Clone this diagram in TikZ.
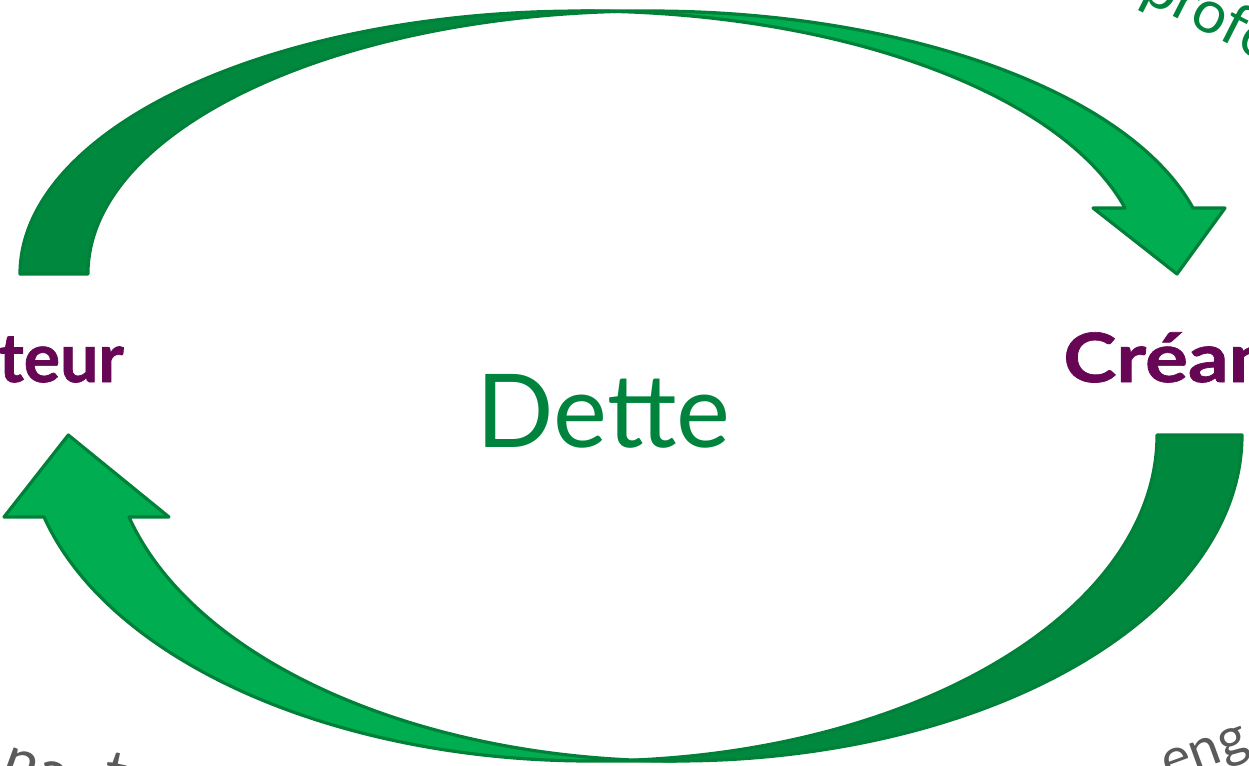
\documentclass[tikz,border=0pt]{standalone}
\usepackage{fontspec}
\setmainfont{Lato}
\definecolor{lightg}{RGB}{0,173,80}
\definecolor{darkg}{RGB}{0,137,62}
\definecolor{lineg}{RGB}{0,128,56}
\definecolor{txtg}{RGB}{0,132,61}
\definecolor{plum}{RGB}{102,6,84}
\definecolor{greyt}{RGB}{90,90,90}
\begin{document}
\begin{tikzpicture}[x=0.75pt,y=-0.75pt,
  front/.style={fill=lightg,draw=lineg,line width=2.4pt,line join=round},
  back/.style={fill=darkg,draw=lineg,line width=2.4pt,line join=round},
  side/.style={text=plum,font=\fontsize{51}{56}\selectfont\bfseries\addfontfeature{FakeBold=1},inner sep=0pt},
  centre/.style={text=txtg,font=\fontsize{76.5}{80}\selectfont,inner sep=0pt},
  ring/.style={text=greyt,font=\fontsize{46}{50}\selectfont,inner sep=0pt,anchor=base west}]
\useasboundingbox (0,0) rectangle (1249,765);
\fill[white] (0,0) rectangle (1249,765);
% top curved arrow (points down at right)
\filldraw[front] (1177,274) -- (1093,208) -- (1125.03,208)
  arc[start angle=345.47,end angle=270,x radius=561.5,y radius=263]
  -- (649.5,11)
  arc[start angle=270,end angle=345.47,x radius=561.5,y radius=263]
  -- (1225,208) -- cycle;
\filldraw[back] (20,274)
  arc[start angle=180,end angle=273.47,x radius=561.5,y radius=263]
  arc[start angle=266.53,end angle=180,x radius=561.5,y radius=263]
  -- cycle;
% bottom curved arrow (points up at left)
\begin{scope}[shift={(1249,765)},rotate=180]
\filldraw[front] (1180.7,330) -- (1080.02,248) -- (1120.02,248)
  arc[start angle=345.43,end angle=270,x radius=565.6,y radius=326]
  -- (657.6,4)
  arc[start angle=270,end angle=345.43,x radius=565.6,y radius=326]
  -- (1245.02,248) -- cycle;
\filldraw[back] (7,330)
  arc[start angle=180,end angle=274.31,x radius=565.6,y radius=326]
  arc[start angle=265.69,end angle=180,x radius=565.6,y radius=326]
  -- cycle;
\end{scope}
% texts
\node[centre,anchor=base] (dette) at (603.5,447) {Dette};
\node[side,anchor=base east] (deb) at (124,382) {teur};
\node[side,anchor=base west] (cre) at (1063,382) {\scalebox{1.18}[1]{Créan}};
\node[text=txtg,inner sep=0pt,rotate=-27,anchor=base west,font=\fontsize{45}{50}\selectfont] (prof) at (1139,-1) {profe};
\node[ring,rotate=-20] (n1) at (-1,775) {n};
\node[ring,rotate=-19] (a1) at (32,787) {a};
\node[ring,rotate=-16] (n2) at (62,798) {n};
\node[ring,rotate=-12] (t1) at (100,791) {t};
\node[ring,rotate=20,font=\fontsize{41}{46}\selectfont] (eng) at (1168,781) {eng};
\end{tikzpicture}
\end{document}
